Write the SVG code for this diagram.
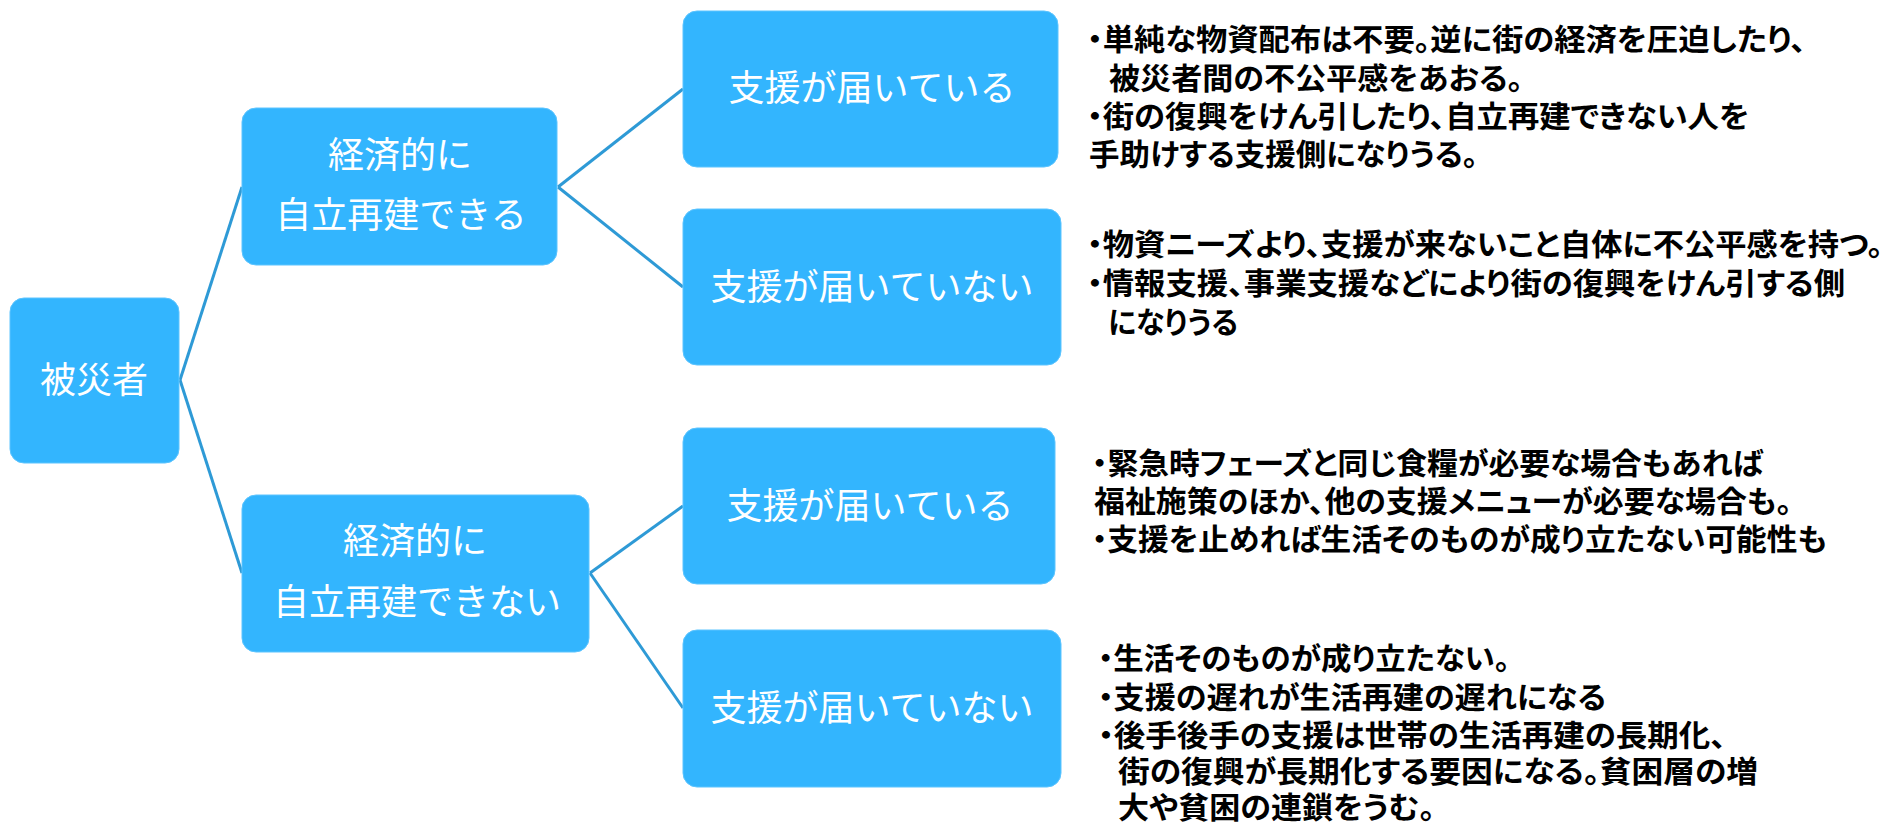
<svg xmlns="http://www.w3.org/2000/svg" width="1885" height="826" viewBox="0 0 1885 826">
<style>
.box{fill:#33B5FE;stroke:#5CC4FF;stroke-width:1}
.lbl{fill:#FFFFFF;font-family:"Noto Sans CJK JP","Noto Sans CJK SC",sans-serif;font-size:36px;text-anchor:middle}
.note{fill:#000000;font-family:"Noto Sans CJK JP","Noto Sans CJK SC",sans-serif;font-size:30px;font-weight:bold;font-feature-settings:"palt" 1}
.conn{stroke:#2E9AD6;stroke-width:3;fill:none}
</style>
<rect width="1885" height="826" fill="#FFFFFF"/>
<g id="connectors">
<path class="conn" d="M180,380 L242,187"/>
<path class="conn" d="M180,380 L242,573"/>
<path class="conn" d="M558,187 L683,89"/>
<path class="conn" d="M558,187 L683,287"/>
<path class="conn" d="M590,573 L683,506"/>
<path class="conn" d="M590,573 L683,708"/>
</g>
<g id="hisaisha">
<rect class="box" x="10" y="298" width="169" height="165" rx="14"/>
<text class="lbl" x="94" y="393">被災者</text>
</g>
<g id="jiritsu-dekiru">
<rect class="box" x="242" y="108" width="315" height="157" rx="14"/>
<text class="lbl" x="400" y="168">経済的に</text>
<text class="lbl" x="401" y="228">自立再建できる</text>
</g>
<g id="jiritsu-dekinai">
<rect class="box" x="242" y="495" width="347" height="157" rx="14"/>
<text class="lbl" x="415" y="554">経済的に</text>
<text class="lbl" x="417" y="615">自立再建できない</text>
</g>
<g id="a-todoite">
<rect class="box" x="683" y="11" width="375" height="156" rx="14"/>
<text class="lbl" x="872" y="101">支援が届いている</text>
</g>
<g id="a-todokanai">
<rect class="box" x="683" y="209" width="378" height="156" rx="14"/>
<text class="lbl" x="872" y="300">支援が届いていない</text>
</g>
<g id="b-todoite">
<rect class="box" x="683" y="428" width="372" height="156" rx="14"/>
<text class="lbl" x="870" y="519">支援が届いている</text>
</g>
<g id="b-todokanai">
<rect class="box" x="683" y="630" width="378" height="157" rx="14"/>
<text class="lbl" x="872" y="721">支援が届いていない</text>
</g>
<g id="note-a-todoite">
<text class="note" x="1087" y="49.5" textLength="719" lengthAdjust="spacingAndGlyphs">・単純な物資配布は不要。逆に街の経済を圧迫したり、</text>
<text class="note" x="1109" y="88.5" textLength="414" lengthAdjust="spacingAndGlyphs">被災者間の不公平感をあおる。</text>
<text class="note" x="1087" y="126.5" textLength="662" lengthAdjust="spacingAndGlyphs">・街の復興をけん引したり、自立再建できない人を</text>
<text class="note" x="1089" y="164.5" textLength="389" lengthAdjust="spacingAndGlyphs">手助けする支援側になりうる。</text>
</g>
<g id="note-a-todokanai">
<text class="note" x="1087" y="254.5" textLength="796" lengthAdjust="spacingAndGlyphs">・物資ニーズより、支援が来ないこと自体に不公平感を持つ。</text>
<text class="note" x="1087" y="293.5" textLength="758" lengthAdjust="spacingAndGlyphs">・情報支援、事業支援などにより街の復興をけん引する側</text>
<text class="note" x="1108" y="332.5" textLength="130" lengthAdjust="spacingAndGlyphs">になりうる</text>
</g>
<g id="note-b-todoite">
<text class="note" x="1092" y="473.5" textLength="671" lengthAdjust="spacingAndGlyphs">・緊急時フェーズと同じ食糧が必要な場合もあれば</text>
<text class="note" x="1094" y="511.5" textLength="698" lengthAdjust="spacingAndGlyphs">福祉施策のほか、他の支援メニューが必要な場合も。</text>
<text class="note" x="1092" y="549.5" textLength="735" lengthAdjust="spacingAndGlyphs">・支援を止めれば生活そのものが成り立たない可能性も</text>
</g>
<g id="note-b-todokanai">
<text class="note" x="1098" y="669" textLength="412" lengthAdjust="spacingAndGlyphs">・生活そのものが成り立たない。</text>
<text class="note" x="1098" y="708" textLength="508" lengthAdjust="spacingAndGlyphs">・支援の遅れが生活再建の遅れになる</text>
<text class="note" x="1098" y="745.5" textLength="628" lengthAdjust="spacingAndGlyphs">・後手後手の支援は世帯の生活再建の長期化、</text>
<text class="note" x="1118" y="782" textLength="640" lengthAdjust="spacingAndGlyphs">街の復興が長期化する要因になる。貧困層の増</text>
<text class="note" x="1118" y="818" textLength="317" lengthAdjust="spacingAndGlyphs">大や貧困の連鎖をうむ。</text>
</g>
</svg>
